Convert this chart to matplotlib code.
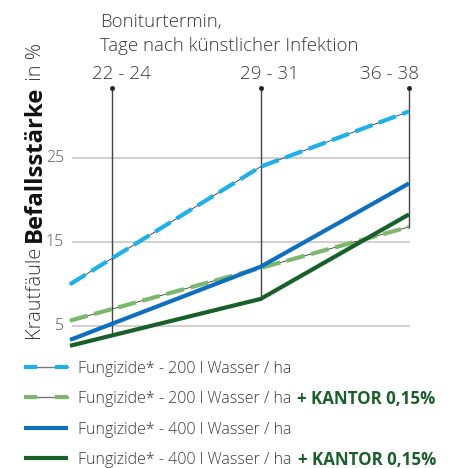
import matplotlib
matplotlib.use("Agg")
import matplotlib.pyplot as plt
from matplotlib.lines import Line2D
import numpy as np

# ---- data ----
days = [21, 30, 37]                      # x positions of data points (days)
check_days = [23, 30, 37]                # Bonitur dates (vertical lines)
check_labels = ["22 - 24", "29 - 31", "36 - 38"]
s_200 = [9.95, 24.0, 30.6]               # Fungizide* - 200 l Wasser / ha
s_200_kantor = [5.6, 11.9, 16.8]         # + KANTOR 0,15%
s_400 = [3.3, 12.05, 22.0]               # Fungizide* - 400 l Wasser / ha
s_400_kantor = [2.6, 8.2, 18.3]          # + KANTOR 0,15%
yticks = [5, 15, 25]
series_names = ["Fungizide* - 200 l Wasser / ha",
                "Fungizide* - 200 l Wasser / ha",
                "Fungizide* - 400 l Wasser / ha",
                "Fungizide* - 400 l Wasser / ha"]
series_extra = ["", "+ KANTOR 0,15%", "", "+ KANTOR 0,15%"]

C_LBLUE = "#1cb1ec"
C_LGREEN = "#7bb86b"
C_BLUE = "#0f6fbf"
C_DGREEN = "#17602a"
C_TXT = "#3a3a3a"
C_KANTOR = "#1b5e2c"
LIGHT = 300

plt.rcParams['font.family'] = ['Open Sans', 'DejaVu Sans']

W, H = 451, 468
fig = plt.figure(figsize=(W / 100, H / 100), dpi=100)

# axes placement in pixels
x0, x1 = 70, 409
y_bot, y_top = 367.55, 82.96
ax = fig.add_axes([x0 / W, (H - y_bot) / H, (x1 - x0) / W, (y_bot - y_top) / H])
ax.set_xlim(days[0], days[-1])
ax.set_ylim(0, 34)
ax.axis("off")

def px2fig(px, py):
    return px / W, (H - py) / H

# gridlines
for t in yticks:
    ax.plot([days[0] + 0.1, days[-1] + 0.05], [t, t], color="#c4c4c4", lw=1.1,
            zorder=1, clip_on=False, solid_capstyle="butt")
    ax.text(days[0] - 0.28, t, str(t), ha="right", va="center", fontsize=11.5,
            color="#595959", fontweight=LIGHT)

# vertical lines (from top to the lowest series at that date)
all_series = [s_200, s_200_kantor, s_400, s_400_kantor]
for d in check_days:
    low = min(np.interp(d, days, s) for s in all_series)
    ax.plot([d, d], [low, 33.4], color="#444444", lw=1.0, zorder=2, clip_on=False)
    ax.plot([d], [33.4], marker="o", ms=2.5, color="#222222", zorder=3, clip_on=False)

lw = 3.0
# dashed series with thin dark line underneath
for s, c in [(s_200, C_LBLUE), (s_200_kantor, C_LGREEN)]:
    ax.plot(days, s, color="#333333", lw=0.6, zorder=4, clip_on=False)
    l, = ax.plot(days, s, color=c, lw=lw, zorder=5, clip_on=False,
                 solid_capstyle="butt", dash_capstyle="butt")
    l.set_dashes((4.4, 1.6))
ax.plot(days, s_400, color=C_BLUE, lw=lw, zorder=6, clip_on=False,
        solid_capstyle="butt", solid_joinstyle="miter")
ax.plot(days, s_400_kantor, color=C_DGREEN, lw=lw, zorder=6, clip_on=False,
        solid_capstyle="butt", solid_joinstyle="miter")

# top texts
fig.text(*px2fig(100, 27), "Boniturtermin,", fontsize=13.4, color=C_TXT,
         ha="left", va="baseline", fontweight=LIGHT)
fig.text(*px2fig(100, 51), "Tage nach künstlicher Infektion", fontsize=13.4,
         color=C_TXT, ha="left", va="baseline", fontweight=LIGHT)
label_cx = [121, 270, 389]
for cx, lab in zip(label_cx, check_labels):
    fig.text(*px2fig(cx, 79), lab, fontsize=13.6, color=C_TXT, ha="center",
             va="baseline", fontweight=LIGHT)

# y label composed of three parts
fig.canvas.draw()
renderer = fig.canvas.get_renderer()
parts = [("Krautfäule ", LIGHT, 14.5), ("Befallsstärke", "bold", 17.2),
         (" in %", LIGHT, 14.5)]
ypos = 340
for txt, wt, fs in parts:
    t = fig.text(*px2fig(41, ypos), txt, rotation=90, rotation_mode="anchor",
                 ha="left", va="baseline", fontsize=fs, fontweight=wt,
                 color=C_TXT if wt != "bold" else "#111111")
    bb = t.get_window_extent(renderer)
    ypos -= bb.height

# legend
leg_y = [366.7, 397.3, 428.3, 457.7]
colors = [C_LBLUE, C_LGREEN, C_BLUE, C_DGREEN]
dashed = [True, True, False, False]
for yy, c, dsh, name, extra in zip(leg_y, colors, dashed, series_names, series_extra):
    fy = (H - yy) / H
    if dsh:
        fig.add_artist(Line2D([24 / W, 68 / W], [fy, fy], color="#777777", lw=1.0))
        fig.add_artist(Line2D([24 / W, 37 / W], [fy, fy], color=c, lw=lw,
                              solid_capstyle="butt"))
        fig.add_artist(Line2D([55 / W, 68 / W], [fy, fy], color=c, lw=lw,
                              solid_capstyle="butt"))
    else:
        fig.add_artist(Line2D([24 / W, 68 / W], [fy, fy], color=c, lw=lw,
                              solid_capstyle="butt"))
    t = fig.text(78 / W, fy, name, fontsize=11.5, color=C_TXT, ha="left",
                 va="center_baseline", fontweight=LIGHT)
    if extra:
        fig.canvas.draw()
        bb = t.get_window_extent(fig.canvas.get_renderer())
        fig.text(bb.x1 / W + 6 / W, fy, extra, fontsize=12.2, fontweight="bold",
                 color=C_KANTOR, ha="left", va="center_baseline")

fig.savefig("out.png", dpi=100)
